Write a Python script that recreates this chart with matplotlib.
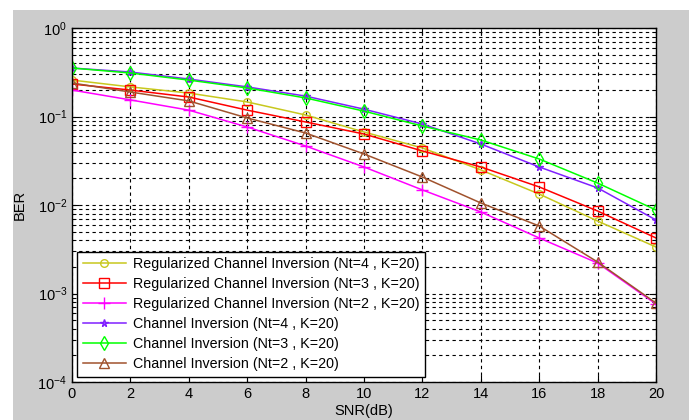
import matplotlib.pyplot as plt
import matplotlib.patches as mpatches
import numpy as np

plt.rcParams['font.family'] = ['Liberation Sans', 'DejaVu Sans']

snr = [0, 2, 4, 6, 8, 10, 12, 14, 16, 18, 20]

# BER values
rci_nt4 = [0.258, 0.216, 0.184, 0.146, 0.104, 0.0668, 0.0441, 0.0249, 0.0133, 0.00659, 0.00335]
rci_nt3 = [0.233, 0.199, 0.166, 0.118, 0.0867, 0.0634, 0.0408, 0.0269, 0.0160, 0.00855, 0.00424]
rci_nt2 = [0.199, 0.154, 0.118, 0.0761, 0.0464, 0.0269, 0.0148, 0.00834, 0.00424, 0.00221, 0.00076]
ci_nt4 = [0.353, 0.318, 0.265, 0.216, 0.170, 0.121, 0.0822, 0.0489, 0.0269, 0.0156, 0.00677]
ci_nt3 = [0.353, 0.310, 0.258, 0.210, 0.162, 0.115, 0.0781, 0.0543, 0.0331, 0.0177, 0.00878]
ci_nt2 = [0.239, 0.189, 0.150, 0.0962, 0.0651, 0.0377, 0.0207, 0.01054, 0.00579, 0.00227, 0.00078]

labels = [
    'Regularized Channel Inversion (Nt=4 , K=20)',
    'Regularized Channel Inversion (Nt=3 , K=20)',
    'Regularized Channel Inversion (Nt=2 , K=20)',
    'Channel Inversion (Nt=4 , K=20)',
    'Channel Inversion (Nt=3 , K=20)',
    'Channel Inversion (Nt=2 , K=20)',
]
series = [rci_nt4, rci_nt3, rci_nt2, ci_nt4, ci_nt3, ci_nt2]
colors = ['#c8c81e', '#ff0000', '#ff00ff', '#8020ff', '#00ff00', '#a0522d']
markers = ['o', 's', '+', '*', 'd', '^']
msizes = [5.5, 6.5, 8, 5.5, 7, 7]

fig = plt.figure(figsize=(6.89, 4.2), dpi=100, facecolor='white')
fig.patches.append(mpatches.Rectangle((13 / 689, 0), 1, 1 - 10 / 420,
                                      transform=fig.transFigure,
                                      facecolor='#cccccc', edgecolor='none', zorder=-10))
ax = fig.add_axes([72 / 689, 38 / 420, 584 / 689, 354 / 420])

for y, c, m, ms, lab in zip(series, colors, markers, msizes, labels):
    ax.semilogy(snr, y, color=c, marker=m, markersize=ms, markerfacecolor='none',
                markeredgecolor=c, linewidth=1.1, markeredgewidth=1, label=lab)

ax.set_xlim(0, 20)
ax.set_ylim(1e-4, 1)
ax.set_xticks(snr)
ax.set_yticks([1e-4, 1e-3, 1e-2, 1e-1, 1])
ax.grid(True, which='major', color='black', linestyle=(0, (3, 3)), linewidth=0.8)
ax.grid(True, which='minor', axis='y', color='black', linestyle=(0, (3, 3)), linewidth=0.8)
ax.tick_params(which='both', direction='in', top=True, right=True, labelsize=10.5)
ax.tick_params(which='major', length=5)
ax.tick_params(which='minor', length=3)
for s in ax.spines.values():
    s.set_linewidth(1)

ax.set_xlabel('SNR(dB)', fontsize=10.5, labelpad=2)
ax.set_ylabel('BER', fontsize=10.5, labelpad=8)

leg = ax.legend(loc='lower left', fontsize=10.3, fancybox=False, framealpha=1,
                edgecolor='black', borderaxespad=0.35, handlelength=3.0,
                handletextpad=0.5, labelspacing=0.42, borderpad=0.4)
leg.get_frame().set_linewidth(1)

fig.savefig('out.png', dpi=100, facecolor=fig.get_facecolor())
